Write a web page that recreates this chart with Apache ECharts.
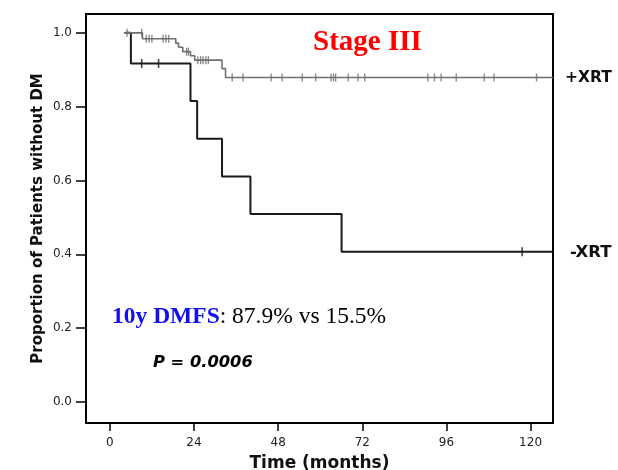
<!DOCTYPE html>
<html>
<head>
<meta charset="utf-8">
<script src="https://cdn.jsdelivr.net/npm/echarts@6/dist/echarts.min.js"></script>
<style>html,body{margin:0;padding:0;background:#fff}#c{width:618px;height:470px}</style>
</head>
<body>
<div id="c"></div>
<script>
// X axis ticks (months) and Y ticks
const xTicks = [0, 24, 48, 72, 96, 120];
const yTicks = [0, 0.2, 0.4, 0.6, 0.8, 1.0];

// +XRT Kaplan-Meier steps [time, survival]
const xrtPlusSteps = [
  [4.0, 1.0], [9.3, 0.984], [18.8, 0.972], [19.6, 0.961], [20.8, 0.949],
  [23.0, 0.938], [24.2, 0.926], [32.0, 0.903], [33.0, 0.879], [126.4, 0.879]
];
// +XRT censored times [time, survival]
const xrtPlusCensor = [
  [4.9, 1.0], [9.1, 1.0],
  [10.4, 0.984], [11.2, 0.984], [12.0, 0.984], [15.2, 0.984], [16.0, 0.984], [16.8, 0.984],
  [21.9, 0.949], [22.4, 0.949],
  [25.1, 0.926], [25.9, 0.926], [26.6, 0.926], [27.4, 0.926], [28.1, 0.926],
  [34.9, 0.879], [38.0, 0.879], [46.0, 0.879], [49.1, 0.879], [54.9, 0.879], [58.7, 0.879],
  [63.1, 0.879], [63.8, 0.879], [64.4, 0.879], [68.0, 0.879], [70.8, 0.879], [72.7, 0.879],
  [90.7, 0.879], [92.6, 0.879], [94.5, 0.879], [98.8, 0.879], [106.8, 0.879], [109.6, 0.879],
  [121.7, 0.879]
];

// -XRT Kaplan-Meier steps
const xrtMinusSteps = [
  [4.5, 1.0], [6.0, 0.917], [23.0, 0.815], [24.9, 0.713], [32.0, 0.611],
  [40.1, 0.509], [66.1, 0.407], [126.4, 0.407]
];
const xrtMinusCensor = [[9.1, 0.917], [13.9, 0.917], [117.6, 0.407]];

const chart = echarts.init(document.getElementById('c'), null, {renderer: 'canvas'});
const SANS = '"DejaVu Sans", Arial, sans-serif';
const SERIF = '"Liberation Serif", "Times New Roman", serif';
const tickFont = {fontFamily: SANS, fontSize: 12, color: '#222'};

chart.setOption({
  animation: false,
  backgroundColor: '#fff',
  grid: {left: 86, right: 65, top: 14, bottom: 47, show: true, borderColor: '#000', borderWidth: 2,
         containLabel: false, outerBoundsMode: 'none'},
  xAxis: {
    type: 'value', min: -6.8, max: 126.4,
    name: 'Time (months)', nameLocation: 'middle', nameGap: 32, nameMoveOverlap: false,
    nameTextStyle: {fontFamily: SANS, fontSize: 17, fontWeight: 'bold', color: '#111', verticalAlign: 'top'},
    axisLine: {show: false, onZero: false},
    splitLine: {show: false},
    axisTick: {show: true, length: 8, customValues: xTicks, lineStyle: {color: '#000', width: 1.5}},
    axisLabel: Object.assign({show: true, margin: 14, customValues: xTicks, formatter: v => String(v)}, tickFont)
  },
  yAxis: {
    type: 'value', min: -0.057, max: 1.051,
    name: 'Proportion of Patients without DM', nameLocation: 'middle', nameGap: 40, nameRotate: 90, nameMoveOverlap: false,
    nameTextStyle: {fontFamily: SANS, fontSize: 15, fontWeight: 'bold', color: '#111'},
    axisLine: {show: false, onZero: false},
    splitLine: {show: false},
    axisTick: {show: true, length: 10, customValues: yTicks, lineStyle: {color: '#000', width: 1.5}},
    axisLabel: Object.assign({show: true, margin: 14, customValues: yTicks, formatter: v => v.toFixed(1)}, tickFont)
  },
  series: [
    {
      name: '-XRT', type: 'line', step: 'end', data: xrtMinusSteps, showSymbol: false, symbol: 'none',
      lineStyle: {color: '#1a1a1a', width: 2}, z: 3,
      endLabel: {show: true, formatter: '-XRT', distance: 17, fontFamily: SANS, fontSize: 16.5, fontWeight: 'bold', color: '#111', offset: [0, 1]}
    },
    {
      name: '-XRT censored', type: 'scatter', data: xrtMinusCensor, symbol: 'rect', symbolSize: [1.6, 9],
      itemStyle: {color: '#1a1a1a'}, z: 4
    },
    {
      name: '+XRT', type: 'line', step: 'end', data: xrtPlusSteps, showSymbol: false, symbol: 'none',
      lineStyle: {color: '#6f6f6f', width: 1.6}, z: 5,
      endLabel: {show: true, formatter: '+XRT', distance: 12, fontFamily: SANS, fontSize: 15.5, fontWeight: 'bold', color: '#111'}
    },
    {
      name: '+XRT censored', type: 'scatter', data: xrtPlusCensor, symbol: 'rect', symbolSize: [1.4, 8],
      itemStyle: {color: '#6f6f6f'}, z: 6
    }
  ],
  graphic: [
    {type: 'text', left: 313, top: 28, z: 10, style: {text: 'Stage III', fill: '#ff0000', font: 'bold 29px ' + SERIF}},
    {type: 'text', left: 112, top: 305, z: 10, style: {
      text: '{b|10y DMFS}{n|: 87.9% vs 15.5%}',
      rich: {
        b: {fill: '#1010ee', font: 'bold 23.5px ' + SERIF},
        n: {fill: '#000', font: '23.5px ' + SERIF}
      }
    }},
    {type: 'text', left: 153, top: 355, z: 10, style: {text: 'P = 0.0006', fill: '#000', font: 'italic bold 16.3px ' + SANS}}
  ]
});
</script>
</body>
</html>
